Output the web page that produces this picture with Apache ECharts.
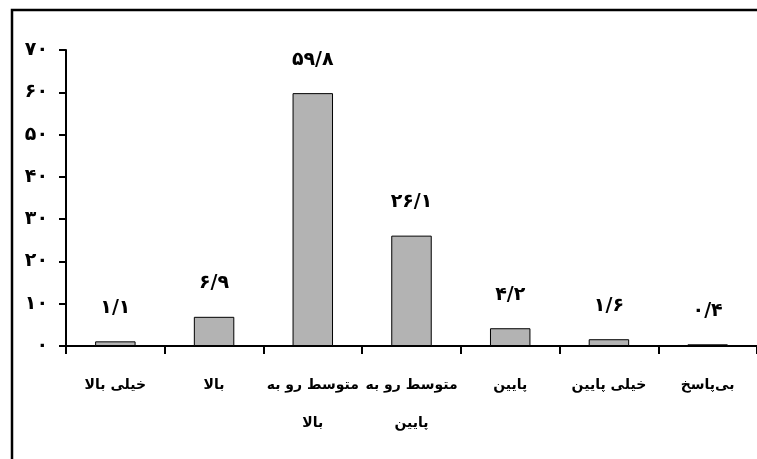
<!DOCTYPE html>
<html><head><meta charset="utf-8">
<script src="https://cdn.jsdelivr.net/npm/echarts@6/dist/echarts.min.js"></script>
<style>html,body{margin:0;padding:0;background:#fff}#c{width:757px;height:459px}</style>
</head><body><div id="c"></div>
<script>
var categories = ['خیلی بالا', 'بالا', 'متوسط رو به\nبالا', 'متوسط رو به\nپایین', 'پایین', 'خیلی پایین', 'بی‌پاسخ'];
var values = [1.1, 6.9, 59.8, 26.1, 4.2, 1.6, 0.4];
var yTickLabels = ['۰', '۱۰', '۲۰', '۳۰', '۴۰', '۵۰', '۶۰', '۷۰'];

function toFa(s) {
  return String(s).replace(/[0-9]/g, function (d) { return '۰۱۲۳۴۵۶۷۸۹'[+d]; }).replace('.', '/');
}
var FONT = 'DejaVu Sans';
var chart = echarts.init(document.getElementById('c'));
chart.setOption({
  animation: false,
  graphic: [{ type: 'rect', shape: { x: 12, y: 10, width: 800, height: 500 },
    style: { fill: 'none', stroke: '#000', lineWidth: 2.5 }, silent: true }],
  grid: { left: 66, right: 0, top: 50, bottom: 113 },
  xAxis: {
    type: 'category', data: categories,
    axisLine: { lineStyle: { color: '#000', width: 2 } },
    axisTick: { show: true, length: 8, lineStyle: { color: '#000', width: 2 } },
    axisLabel: { interval: 0, margin: 20, fontSize: 14, fontWeight: 'bold', color: '#000', fontFamily: FONT, lineHeight: 38 }
  },
  yAxis: {
    type: 'value', min: 0, max: 70, interval: 10,
    splitLine: { show: false },
    axisLine: { show: true, lineStyle: { color: '#000', width: 2 } },
    axisTick: { show: true, length: 7, lineStyle: { color: '#000', width: 2 } },
    axisLabel: { margin: 18, fontSize: 19, fontWeight: 'bold', color: '#000', fontFamily: FONT,
      formatter: function (v) { return yTickLabels[Math.round(v / 10)]; } }
  },
  series: [{
    type: 'bar', data: values, barWidth: '41%',
    itemStyle: { color: '#b3b3b3', borderColor: '#000', borderWidth: 1 },
    label: { show: true, position: 'top', distance: 24, fontSize: 19, fontWeight: 'bold', color: '#000', fontFamily: FONT,
      formatter: function (p) { return toFa(p.value); } }
  }]
});
</script></body></html>
